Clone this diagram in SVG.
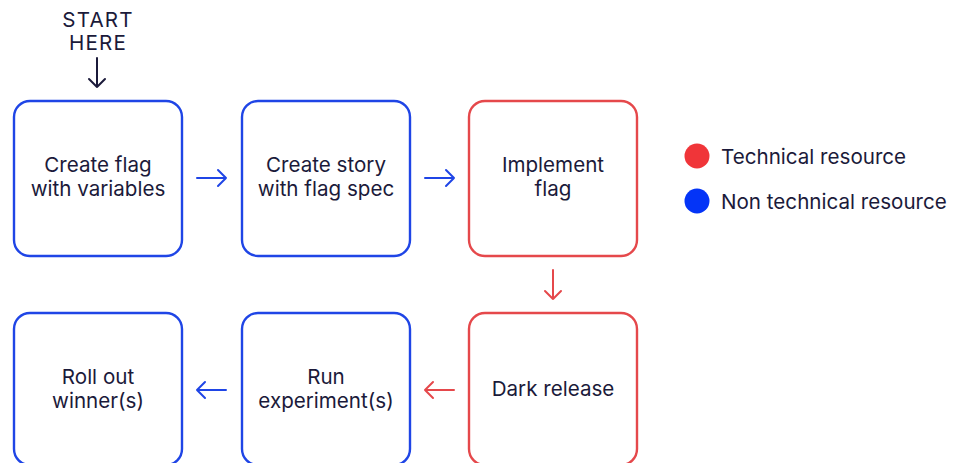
<svg xmlns="http://www.w3.org/2000/svg" width="964" height="463" viewBox="0 0 964 463">
<style>
.box{fill:#fff;stroke-width:2.4}
.b{stroke:#1f45e6}
.r{stroke:#e5484b}
.t{font-family:Inter,"Noto Sans",sans-serif;font-size:20.6px;fill:#1b1a3a;text-anchor:middle}
.lg{font-family:Inter,"Noto Sans",sans-serif;font-size:20.6px;fill:#1b1a3a}
.ar{fill:none;stroke-width:2;stroke-linecap:round;stroke-linejoin:round}
.ab{stroke:#1f45e6}
.arr{stroke:#e5484b}
.ak{stroke:#1b1a3a}
</style>
<rect width="964" height="463" fill="#fff"/>
<g id="start">
<text class="t" x="98" y="27" letter-spacing="1.2">START</text>
<text class="t" x="98" y="50" letter-spacing="1.2">HERE</text>
</g>
<g id="n1"><rect class="box b" x="14" y="101" width="168" height="155" rx="16"/><text class="t" x="98" y="172">Create flag</text><text class="t" x="98" y="196">with variables</text></g>
<g id="n2"><rect class="box b" x="242" y="101" width="168" height="155" rx="16"/><text class="t" x="326" y="172">Create story</text><text class="t" x="326" y="196">with flag spec</text></g>
<g id="n3"><rect class="box r" x="469" y="101" width="168" height="155" rx="16"/><text class="t" x="553" y="172">Implement</text><text class="t" x="553" y="196">flag</text></g>
<g id="n4"><rect class="box r" x="469" y="313" width="168" height="152" rx="16"/><text class="t" x="553" y="396">Dark release</text></g>
<g id="n5"><rect class="box b" x="242" y="313" width="168" height="152" rx="16"/><text class="t" x="326" y="384">Run</text><text class="t" x="326" y="408">experiment(s)</text></g>
<g id="n6"><rect class="box b" x="14" y="313" width="168" height="152" rx="16"/><text class="t" x="98" y="384">Roll out</text><text class="t" x="98" y="408">winner(s)</text></g>
<g id="connectors">
<path class="ar ak" d="M97 58V87M89 79L97 87L105 79"/>
<path class="ar ab" d="M197 178H226M218 170L226 178L218 186"/>
<path class="ar ab" d="M425 178H454M446 170L454 178L446 186"/>
<path class="ar arr" d="M553 270V299M545 291L553 299L561 291"/>
<path class="ar arr" d="M454 390H425M433 382L425 390L433 398"/>
<path class="ar ab" d="M226 390H197M205 382L197 390L205 398"/>
</g>
<g id="legend">
<circle cx="697" cy="156" r="12.5" fill="#f03539"/>
<text class="lg" x="721" y="164">Technical resource</text>
<circle cx="697" cy="201" r="12.5" fill="#0434f7"/>
<text class="lg" x="721" y="209">Non technical resource</text>
</g>
</svg>
